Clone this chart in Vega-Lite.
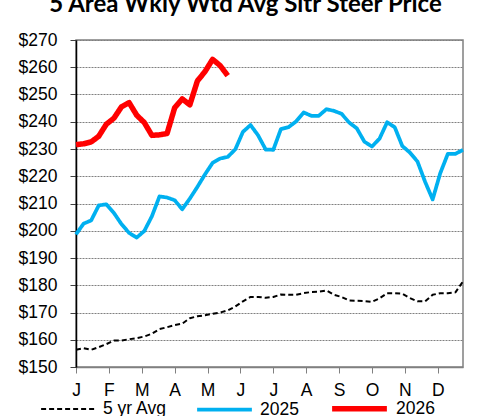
{
  "$schema": "https://vega.github.io/schema/vega-lite/v6.json",
  "width": 387,
  "height": 327,
  "autosize": {"type": "none"},
  "padding": {"left": 76, "top": 40, "right": 15, "bottom": 49},
  "background": "white",
  "title": {
    "text": "5 Area Wkly Wtd Avg Sltr Steer Price",
    "font": "Lato",
    "fontSize": 24,
    "fontWeight": "bold",
    "color": "black",
    "offset": 14,
    "dx": -24
  },
  "config": {
    "view": {"stroke": "#808080", "strokeWidth": 1.5},
    "axis": {
      "labelFont": "Liberation Sans",
      "labelFontSize": 17.5,
      "labelColor": "black",
      "titleFont": "Liberation Sans"
    },
    "legend": {
      "labelFont": "Liberation Sans",
      "labelFontSize": 17.5,
      "labelColor": "black"
    }
  },
  "data": {
    "values": [
      {"w":0,"v":156.3,"s":"5 yr Avg"},{"w":1,"v":156.9,"s":"5 yr Avg"},{"w":2,"v":156.3,"s":"5 yr Avg"},{"w":3,"v":157.3,"s":"5 yr Avg"},{"w":4,"v":158.4,"s":"5 yr Avg"},{"w":5,"v":159.7,"s":"5 yr Avg"},{"w":6,"v":159.7,"s":"5 yr Avg"},{"w":7,"v":160.2,"s":"5 yr Avg"},{"w":8,"v":160.6,"s":"5 yr Avg"},{"w":9,"v":161.2,"s":"5 yr Avg"},{"w":10,"v":162.2,"s":"5 yr Avg"},{"w":11,"v":163.9,"s":"5 yr Avg"},{"w":12,"v":164.6,"s":"5 yr Avg"},{"w":13,"v":165.4,"s":"5 yr Avg"},{"w":14,"v":165.9,"s":"5 yr Avg"},{"w":15,"v":167.9,"s":"5 yr Avg"},{"w":16,"v":168.6,"s":"5 yr Avg"},{"w":17,"v":169.0,"s":"5 yr Avg"},{"w":18,"v":169.5,"s":"5 yr Avg"},{"w":19,"v":170.0,"s":"5 yr Avg"},{"w":20,"v":170.8,"s":"5 yr Avg"},{"w":21,"v":172.2,"s":"5 yr Avg"},{"w":22,"v":174.1,"s":"5 yr Avg"},{"w":23,"v":175.7,"s":"5 yr Avg"},{"w":24,"v":175.7,"s":"5 yr Avg"},{"w":25,"v":175.4,"s":"5 yr Avg"},{"w":26,"v":175.7,"s":"5 yr Avg"},{"w":27,"v":176.6,"s":"5 yr Avg"},{"w":28,"v":176.5,"s":"5 yr Avg"},{"w":29,"v":176.5,"s":"5 yr Avg"},{"w":30,"v":177.1,"s":"5 yr Avg"},{"w":31,"v":177.5,"s":"5 yr Avg"},{"w":32,"v":177.6,"s":"5 yr Avg"},{"w":33,"v":178.1,"s":"5 yr Avg"},{"w":34,"v":176.5,"s":"5 yr Avg"},{"w":35,"v":175.7,"s":"5 yr Avg"},{"w":36,"v":174.4,"s":"5 yr Avg"},{"w":37,"v":174.3,"s":"5 yr Avg"},{"w":38,"v":174.2,"s":"5 yr Avg"},{"w":39,"v":173.9,"s":"5 yr Avg"},{"w":40,"v":175.2,"s":"5 yr Avg"},{"w":41,"v":177.1,"s":"5 yr Avg"},{"w":42,"v":177.1,"s":"5 yr Avg"},{"w":43,"v":176.9,"s":"5 yr Avg"},{"w":44,"v":175.3,"s":"5 yr Avg"},{"w":45,"v":174.1,"s":"5 yr Avg"},{"w":46,"v":174.1,"s":"5 yr Avg"},{"w":47,"v":176.5,"s":"5 yr Avg"},{"w":48,"v":177.1,"s":"5 yr Avg"},{"w":49,"v":177.1,"s":"5 yr Avg"},{"w":50,"v":177.4,"s":"5 yr Avg"},{"w":51,"v":181.4,"s":"5 yr Avg"},
      {"w":0,"v":198.7,"s":"2025"},{"w":1,"v":202.6,"s":"2025"},{"w":2,"v":203.8,"s":"2025"},{"w":3,"v":209.3,"s":"2025"},{"w":4,"v":209.7,"s":"2025"},{"w":5,"v":206.5,"s":"2025"},{"w":6,"v":202.4,"s":"2025"},{"w":7,"v":199.2,"s":"2025"},{"w":8,"v":197.5,"s":"2025"},{"w":9,"v":199.9,"s":"2025"},{"w":10,"v":205.3,"s":"2025"},{"w":11,"v":212.6,"s":"2025"},{"w":12,"v":212.2,"s":"2025"},{"w":13,"v":211.2,"s":"2025"},{"w":14,"v":207.9,"s":"2025"},{"w":15,"v":211.8,"s":"2025"},{"w":16,"v":216.1,"s":"2025"},{"w":17,"v":220.7,"s":"2025"},{"w":18,"v":224.9,"s":"2025"},{"w":19,"v":226.5,"s":"2025"},{"w":20,"v":227.1,"s":"2025"},{"w":21,"v":229.9,"s":"2025"},{"w":22,"v":236.3,"s":"2025"},{"w":23,"v":238.8,"s":"2025"},{"w":24,"v":235.0,"s":"2025"},{"w":25,"v":229.8,"s":"2025"},{"w":26,"v":229.7,"s":"2025"},{"w":27,"v":237.3,"s":"2025"},{"w":28,"v":238.0,"s":"2025"},{"w":29,"v":240.1,"s":"2025"},{"w":30,"v":243.4,"s":"2025"},{"w":31,"v":242.2,"s":"2025"},{"w":32,"v":242.2,"s":"2025"},{"w":33,"v":244.6,"s":"2025"},{"w":34,"v":244.0,"s":"2025"},{"w":35,"v":242.9,"s":"2025"},{"w":36,"v":239.7,"s":"2025"},{"w":37,"v":237.6,"s":"2025"},{"w":38,"v":232.7,"s":"2025"},{"w":39,"v":230.9,"s":"2025"},{"w":40,"v":233.8,"s":"2025"},{"w":41,"v":239.8,"s":"2025"},{"w":42,"v":238.0,"s":"2025"},{"w":43,"v":231.1,"s":"2025"},{"w":44,"v":228.7,"s":"2025"},{"w":45,"v":225.4,"s":"2025"},{"w":46,"v":218.0,"s":"2025"},{"w":47,"v":211.5,"s":"2025"},{"w":48,"v":221.1,"s":"2025"},{"w":49,"v":228.2,"s":"2025"},{"w":50,"v":228.2,"s":"2025"},{"w":51,"v":229.7,"s":"2025"},
      {"w":0,"v":231.6,"s":"2026"},{"w":1,"v":231.9,"s":"2026"},{"w":2,"v":232.6,"s":"2026"},{"w":3,"v":234.7,"s":"2026"},{"w":4,"v":239.1,"s":"2026"},{"w":5,"v":241.3,"s":"2026"},{"w":6,"v":245.5,"s":"2026"},{"w":7,"v":247.0,"s":"2026"},{"w":8,"v":242.4,"s":"2026"},{"w":9,"v":239.7,"s":"2026"},{"w":10,"v":235.0,"s":"2026"},{"w":11,"v":235.2,"s":"2026"},{"w":12,"v":235.7,"s":"2026"},{"w":13,"v":245.1,"s":"2026"},{"w":14,"v":248.4,"s":"2026"},{"w":15,"v":246.2,"s":"2026"},{"w":16,"v":255.0,"s":"2026"},{"w":17,"v":258.4,"s":"2026"},{"w":18,"v":262.9,"s":"2026"},{"w":19,"v":260.6,"s":"2026"},{"w":20,"v":256.9,"s":"2026"}
    ]
  },
  "mark": {"type": "line", "strokeCap": "butt", "strokeJoin": "round"},
  "encoding": {
    "x": {
      "field": "w",
      "type": "quantitative",
      "scale": {"domain": [0, 51], "nice": false, "zero": false},
      "axis": {
        "title": null,
        "grid": false,
        "values": [0, 4.3333, 8.6667, 13, 17.3333, 21.6667, 26, 30.3333, 34.6667, 39, 43.3333, 47.6667],
        "labelExpr": "['J','F','M','A','M','J','J','A','S','O','N','D'][round(datum.value*3/13)]",
        "labelAngle": 0,
        "labelAlign": "center",
        "labelBaseline": "top",
        "labelPadding": 8,
        "tickSize": 6,
        "tickColor": "#808080",
        "domainColor": "#808080",
        "domainWidth": 1.5,
        "labelFlush": false,
        "labelOverlap": false
      }
    },
    "y": {
      "field": "v",
      "type": "quantitative",
      "scale": {"domain": [150, 270], "nice": false, "zero": false},
      "axis": {
        "title": null,
        "values": [150,160,170,180,190,200,210,220,230,240,250,260,270],
        "format": "$,.0f",
        "grid": true,
        "gridColor": "#808080",
        "gridDash": [2, 1],
        "gridWidth": 1,
        "tickSize": 6,
        "tickColor": "#404040",
        "domainColor": "black",
        "domainWidth": 1.5,
        "labelPadding": 13,
        "labelFlush": false,
        "labelOverlap": false
      }
    },
    "color": {
      "field": "s",
      "type": "nominal",
      "scale": {"domain": ["5 yr Avg", "2025", "2026"], "range": ["black", "#00B0F0", "#FF0000"]},
      "legend": {
        "title": null,
        "orient": "none",
        "direction": "horizontal",
        "legendX": -36,
        "legendY": 338,
        "symbolType": "stroke",
        "symbolSize": 3000,
        "labelOffset": 6,
        "columnPadding": 22
      }
    },
    "strokeDash": {
      "field": "s",
      "type": "nominal",
      "scale": {"domain": ["5 yr Avg", "2025", "2026"], "range": [[5, 3], [1, 0], [1, 0]]},
      "legend": null
    },
    "strokeWidth": {
      "field": "s",
      "type": "nominal",
      "scale": {"domain": ["5 yr Avg", "2025", "2026"], "range": [2, 5.5, 5.5]},
      "legend": null
    }
  }
}
